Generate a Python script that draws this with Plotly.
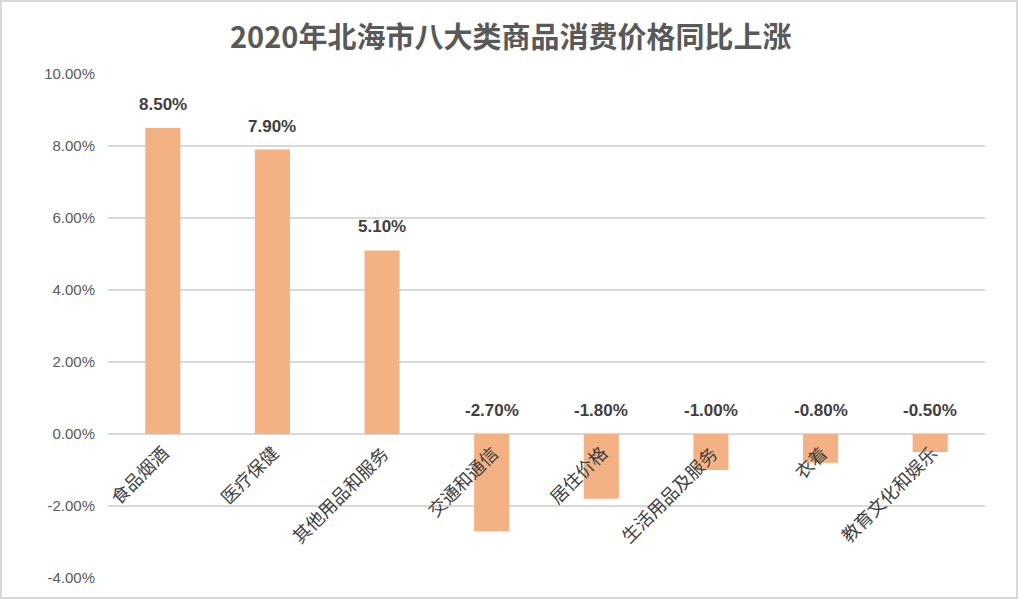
import plotly.graph_objects as go

categories = ["食品烟酒", "医疗保健", "其他用品和服务", "交通和通信", "居住价格", "生活用品及服务", "衣着", "教育文化和娱乐"]
values = [8.50, 7.90, 5.10, -2.70, -1.80, -1.00, -0.80, -0.50]
tick_vals = [-4, -2, 0, 2, 4, 6, 8, 10]
tick_text = ["-4.00%", "-2.00%", "0.00%", "2.00%", "4.00%", "6.00%", "8.00%", "10.00%"]

W, H = 1018, 599
ml, mr, mt, mb = 108, 33, 74, 21
pw, ph = W - ml - mr, H - mt - mb

fig = go.Figure()
fig.add_trace(go.Bar(x=categories, y=values, marker=dict(color="#F4B183", line=dict(width=0)),
                     width=0.32, hoverinfo="skip"))

annotations = []
for c, v in zip(categories, values):
    annotations.append(dict(x=c, y=max(v, 0), xref="x", yref="y", text=f"<b>{v:.2f}%</b>",
                            showarrow=False, xanchor="center", yanchor="bottom", yshift=12,
                            font=dict(family="Liberation Sans, Arial", size=17, color="#404040")))
    annotations.append(dict(x=c, y=0, xref="x", yref="y", text=c, textangle=-45,
                            showarrow=False, xanchor="right", yanchor="top", xshift=14, yshift=-3,
                            font=dict(family="Noto Sans CJK SC", size=18, color="#404040")))
annotations.append(dict(x=0.5, y=1 + (mt - 35) / ph, xref="paper", yref="paper",
                        text="<b>2020年北海市八大类商品消费价格同比上涨</b>",
                        showarrow=False, xanchor="center", yanchor="middle", xshift=-36,
                        font=dict(family="Noto Sans CJK SC", size=29, color="#595959")))

fig.update_layout(
    width=W, height=H,
    margin=dict(l=ml, r=mr, t=mt, b=mb, autoexpand=False),
    paper_bgcolor="white", plot_bgcolor="white",
    showlegend=False,
    annotations=annotations,
    xaxis=dict(range=[-0.5, len(categories) - 0.5], automargin=False,
               showticklabels=False, showgrid=False, zeroline=False, showline=False, ticks=""),
    yaxis=dict(range=[-4, 10], tickvals=tick_vals, ticktext=tick_text, automargin=False,
               showgrid=True, gridcolor="#D9D9D9", gridwidth=1.5,
               zeroline=True, zerolinecolor="#D9D9D9", zerolinewidth=1.5,
               showline=False, ticks="", ticklabelstandoff=12,
               tickfont=dict(family="Liberation Sans, Arial", size=15, color="#595959")),
    shapes=[dict(type="rect", xref="paper", yref="paper",
                 x0=(-ml + 1) / pw, x1=1 + (mr - 1) / pw,
                 y0=(-mb + 1) / ph, y1=1 + (mt - 1) / ph,
                 line=dict(color="#D9D9D9", width=2), fillcolor="rgba(0,0,0,0)", layer="below")],
)

fig.write_html("out.html")
